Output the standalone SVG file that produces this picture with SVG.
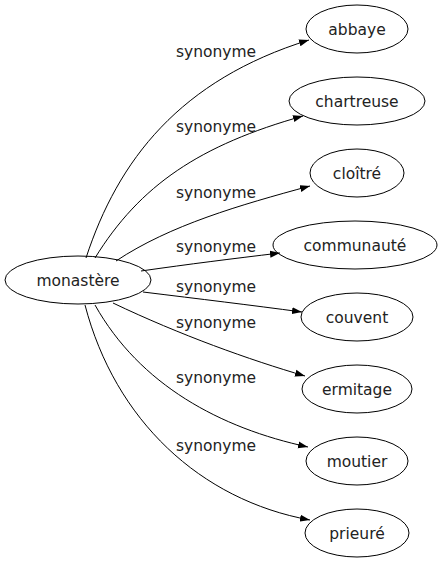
<svg xmlns="http://www.w3.org/2000/svg" width="445" height="563" viewBox="0 0 445 563">
<style>
.n ellipse{fill:none;stroke:#000;stroke-width:1}
.n text,.lbl{font-family:"DejaVu Sans",Verdana,sans-serif;font-size:15.5px;fill:#222;text-anchor:middle}
.e path{fill:none;stroke:#000;stroke-width:1;marker-end:url(#ah)}
</style>
<defs>
<marker id="ah" markerUnits="userSpaceOnUse" markerWidth="10" markerHeight="8" refX="10" refY="4" orient="auto">
<path d="M0,0.5 L10,4 L0,7.5 z" fill="#000"/>
</marker>
</defs>
<rect width="445" height="563" fill="#fff"/>
<g id="edges" class="e">
<path d="M86,258 C118,160 180,80 309,40"/>
<path d="M95,258 C140,185 200,145 303,116"/>
<path d="M116,261 C170,225 240,205 310,186"/>
<path d="M141,271 C190,264 230,259 280,253"/>
<path d="M143,292 C200,299 250,305 302,312"/>
<path d="M113,303 C180,335 250,360 305,376"/>
<path d="M95,305 C140,385 220,428 308,447"/>
<path d="M85,305 C115,420 200,500 310,520"/>
</g>
<g class="lbl">
<text x="216" y="57">synonyme</text>
<text x="216" y="132">synonyme</text>
<text x="216" y="198">synonyme</text>
<text x="216" y="252">synonyme</text>
<text x="216" y="292">synonyme</text>
<text x="216" y="328">synonyme</text>
<text x="216" y="383">synonyme</text>
<text x="216" y="451">synonyme</text>
</g>
<g id="monastere" class="n"><ellipse cx="78" cy="280" rx="73" ry="24"/><text x="78" y="286">monastère</text></g>
<g id="abbaye" class="n"><ellipse cx="357" cy="29" rx="51" ry="24"/><text x="357" y="35">abbaye</text></g>
<g id="chartreuse" class="n"><ellipse cx="357" cy="101" rx="68" ry="24"/><text x="357" y="107">chartreuse</text></g>
<g id="cloitre" class="n"><ellipse cx="357" cy="173" rx="47" ry="24"/><text x="357" y="179">cloîtré</text></g>
<g id="communaute" class="n"><ellipse cx="355" cy="245" rx="82" ry="24"/><text x="355" y="251">communauté</text></g>
<g id="couvent" class="n"><ellipse cx="357" cy="317" rx="56" ry="24"/><text x="357" y="323">couvent</text></g>
<g id="ermitage" class="n"><ellipse cx="357" cy="389" rx="55" ry="24"/><text x="357" y="395">ermitage</text></g>
<g id="moutier" class="n"><ellipse cx="357" cy="461" rx="51" ry="24"/><text x="357" y="467">moutier</text></g>
<g id="prieure" class="n"><ellipse cx="357" cy="533" rx="52" ry="24"/><text x="357" y="539">prieuré</text></g>
</svg>
